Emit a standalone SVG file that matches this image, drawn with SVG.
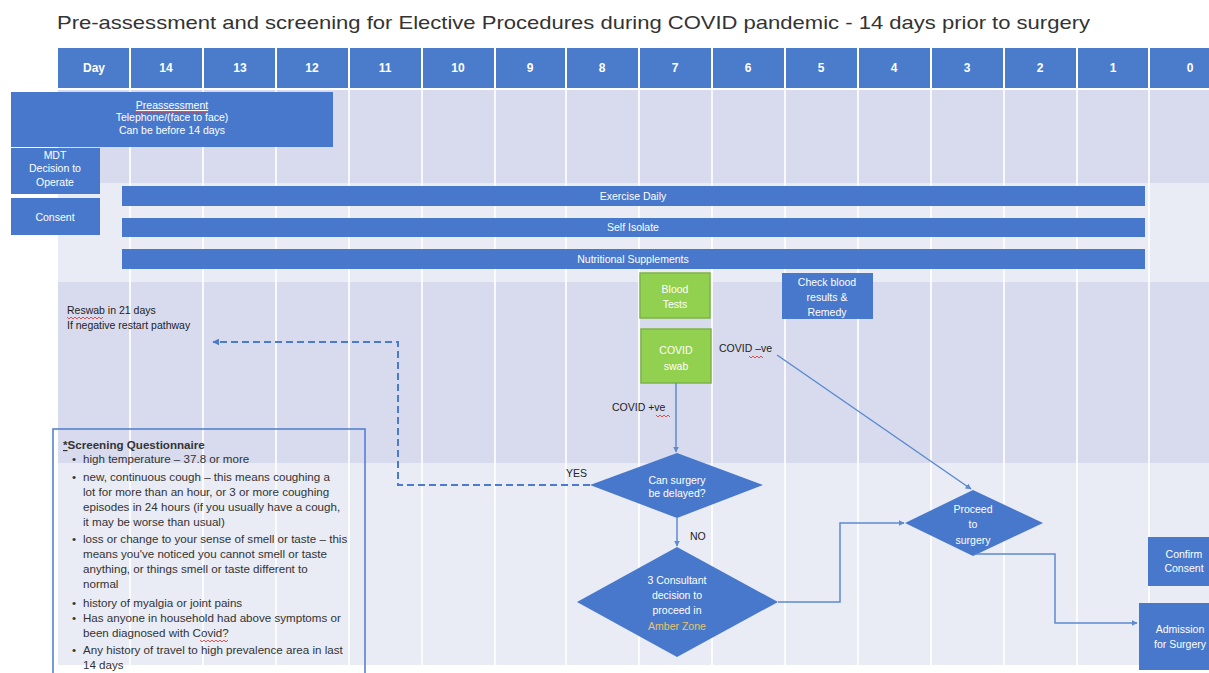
<svg xmlns="http://www.w3.org/2000/svg" width="1209" height="673" viewBox="0 0 1209 673">
<style>
.t{font-family:"Liberation Sans",Arial,sans-serif}
.hd{font-family:"Liberation Sans",Arial,sans-serif;font-size:12px;font-weight:bold;fill:#fff;text-anchor:middle}
.bx{fill:#4878CC}
.gr{fill:#92D050;stroke:#7DB446;stroke-width:1.5}
.wt{font-family:"Liberation Sans",Arial,sans-serif;font-size:10.5px;fill:#fff;text-anchor:middle}
.dk{font-family:"Liberation Sans",Arial,sans-serif;font-size:10.5px;fill:#222}
.q{font-family:"Liberation Sans",Arial,sans-serif;font-size:11.6px;fill:#333}
.gl{stroke:#fff;stroke-width:2;opacity:0.85}
.cn{fill:none;stroke:#5B8BD0;stroke-width:1.5}
.sq{fill:none;stroke:#e0403a;stroke-width:0.9}
</style>
<defs>
<marker id="ah" viewBox="0 0 10 10" refX="9" refY="5" markerWidth="6" markerHeight="6" orient="auto" markerUnits="userSpaceOnUse">
<path d="M0,0 L10,5 L0,10 z" fill="#5B8BD0"/>
</marker>
<marker id="ahd" viewBox="0 0 10 10" refX="9" refY="5" markerWidth="7" markerHeight="7" orient="auto" markerUnits="userSpaceOnUse">
<path d="M0,0 L10,5 L0,10 z" fill="#4A7CCB"/>
</marker>
</defs>
<rect x="0" y="0" width="1209" height="673" fill="#fff"/>
<text class="t" x="57" y="29" font-size="18.5" fill="#333" textLength="1033" lengthAdjust="spacingAndGlyphs">Pre-assessment and screening for Elective Procedures during COVID pandemic  - 14 days prior to surgery</text>

<g id="background">
<rect x="58" y="90" width="1151" height="93" fill="#D8DBEE"/>
<rect x="58" y="183" width="1151" height="99" fill="#E9EBF5"/>
<rect x="58" y="282" width="1151" height="181" fill="#D8DBEE"/>
<rect x="58" y="463" width="1151" height="202" fill="#E9EBF5"/>
<g class="gl">
<line x1="130" y1="90" x2="130" y2="665"/><line x1="203" y1="90" x2="203" y2="665"/><line x1="276" y1="90" x2="276" y2="665"/><line x1="349" y1="90" x2="349" y2="665"/><line x1="422" y1="90" x2="422" y2="665"/><line x1="495" y1="90" x2="495" y2="665"/><line x1="566" y1="90" x2="566" y2="665"/><line x1="639" y1="90" x2="639" y2="665"/><line x1="712" y1="90" x2="712" y2="665"/><line x1="785" y1="90" x2="785" y2="665"/><line x1="858" y1="90" x2="858" y2="665"/><line x1="931" y1="90" x2="931" y2="665"/><line x1="1004" y1="90" x2="1004" y2="665"/><line x1="1077" y1="90" x2="1077" y2="665"/><line x1="1149" y1="90" x2="1149" y2="665"/>
</g>
</g>

<g id="header">
<rect x="58" y="48" width="1151" height="40" fill="#4A7CCB"/>
<g stroke="#fff" stroke-width="2">
<line x1="130" y1="48" x2="130" y2="88"/><line x1="203" y1="48" x2="203" y2="88"/><line x1="276" y1="48" x2="276" y2="88"/><line x1="349" y1="48" x2="349" y2="88"/><line x1="422" y1="48" x2="422" y2="88"/><line x1="495" y1="48" x2="495" y2="88"/><line x1="566" y1="48" x2="566" y2="88"/><line x1="639" y1="48" x2="639" y2="88"/><line x1="712" y1="48" x2="712" y2="88"/><line x1="785" y1="48" x2="785" y2="88"/><line x1="858" y1="48" x2="858" y2="88"/><line x1="931" y1="48" x2="931" y2="88"/><line x1="1004" y1="48" x2="1004" y2="88"/><line x1="1077" y1="48" x2="1077" y2="88"/><line x1="1149" y1="48" x2="1149" y2="88"/>
</g>
<text class="hd" x="94" y="72">Day</text><text class="hd" x="166" y="72">14</text><text class="hd" x="240" y="72">13</text><text class="hd" x="312" y="72">12</text><text class="hd" x="385" y="72">11</text><text class="hd" x="458" y="72">10</text><text class="hd" x="530" y="72">9</text><text class="hd" x="602" y="72">8</text><text class="hd" x="675" y="72">7</text><text class="hd" x="748" y="72">6</text><text class="hd" x="821" y="72">5</text><text class="hd" x="894" y="72">4</text><text class="hd" x="967" y="72">3</text><text class="hd" x="1040" y="72">2</text><text class="hd" x="1113" y="72">1</text><text class="hd" x="1190" y="72">0</text>
</g>

<g id="preassessment">
<rect class="bx" x="11" y="92" width="322" height="55"/>
<text class="wt" x="172" y="109" text-decoration="underline">Preassessment</text>
<text class="wt" x="172" y="121">Telephone/(face to face)</text>
<text class="wt" x="172" y="134">Can be before 14 days</text>
<path class="sq" d="M133,112 l2,2 l2,-2 l2,2 l2,-2 l2,2 l2,-2 l2,2 l2,-2 l2,2 l2,-2 l2,2 l2,-2 l2,2 l2,-2 l2,2 l2,-2 l2,2 l2,-2 l2,2 l2,-2 l2,2 l2,-2 l2,2 l2,-2 l2,2 l2,-2 l2,2 l2,-2 l2,2 l2,-2 l2,2 l2,-2 l2,2 l2,-2 l2,2 l2,-2"/>
</g>
<g id="mdt">
<rect class="bx" x="11" y="148" width="89" height="46"/>
<text class="wt" x="55" y="159">MDT</text>
<text class="wt" x="55" y="172">Decision to</text>
<text class="wt" x="55" y="186">Operate</text>
</g>
<g id="consent">
<rect class="bx" x="11" y="198" width="89" height="37"/>
<text class="wt" x="55" y="221">Consent</text>
</g>
<g id="exercise">
<rect class="bx" x="122" y="186" width="1023" height="20"/>
<text class="wt" x="633" y="200">Exercise Daily</text>
</g>
<g id="isolate">
<rect class="bx" x="122" y="218" width="1023" height="19"/>
<text class="wt" x="633" y="231">Self Isolate</text>
</g>
<g id="nutrition">
<rect class="bx" x="122" y="249" width="1023" height="20"/>
<text class="wt" x="633" y="263">Nutritional Supplements</text>
</g>
<g id="blood-tests">
<rect class="gr" x="640" y="273" width="70" height="45"/>
<text class="wt" x="675" y="293">Blood</text>
<text class="wt" x="675" y="308">Tests</text>
</g>
<g id="check-blood">
<rect class="bx" x="782" y="273" width="91" height="46"/>
<text class="wt" x="827" y="286">Check blood</text>
<text class="wt" x="827" y="301">results &amp;</text>
<text class="wt" x="827" y="316">Remedy</text>
</g>
<g id="covid-swab">
<rect class="gr" x="641" y="329" width="70" height="54"/>
<text class="wt" x="676" y="354">COVID</text>
<text class="wt" x="676" y="370">swab</text>
</g>
<g id="reswab">
<text class="dk" x="67" y="314">Reswab in 21 days</text>
<text class="dk" x="67" y="329">If negative restart pathway</text>
<path class="sq" d="M67,317 l2,2 l2,-2 l2,2 l2,-2 l2,2 l2,-2 l2,2 l2,-2 l2,2 l2,-2 l2,2 l2,-2 l2,2 l2,-2 l2,2 l2,-2 l2,2 l2,-2"/>
</g>
<g id="delay-decision">
<polygon class="bx" points="677,453 763,485 677,518 590,485"/>
<text class="wt" x="677" y="484">Can surgery</text>
<text class="wt" x="677" y="497">be delayed?</text>
</g>
<g id="consultant-decision">
<polygon class="bx" points="677,547 778,602 677,657 577,602"/>
<text class="wt" x="677" y="584">3 Consultant</text>
<text class="wt" x="677" y="599">decision to</text>
<text class="wt" x="677" y="614">proceed in</text>
<text class="wt" x="677" y="630" style="fill:#E9C46A">Amber Zone</text>
</g>
<g id="proceed">
<polygon class="bx" points="973,490 1043,523 973,556 905,523"/>
<text class="wt" x="973" y="513">Proceed</text>
<text class="wt" x="973" y="528">to</text>
<text class="wt" x="973" y="544">surgery</text>
</g>
<g id="confirm-consent">
<rect class="bx" x="1148" y="537" width="70" height="49"/>
<text class="wt" x="1184" y="558">Confirm</text>
<text class="wt" x="1184" y="572">Consent</text>
</g>
<g id="admission">
<rect class="bx" x="1139" y="603" width="80" height="67"/>
<text class="wt" x="1180" y="633">Admission</text>
<text class="wt" x="1180" y="648">for Surgery</text>
</g>
<g id="questionnaire">
<rect x="53" y="429" width="312" height="260" fill="none" stroke="#4A7CCB" stroke-width="1.5"/>
<text class="q" x="63" y="449" font-weight="bold"><tspan text-decoration="underline">*</tspan>Screening Questionnaire</text>
<g class="q">
<text x="72" y="463">•</text><text x="83" y="463">high temperature – 37.8 or more</text>
<text x="72" y="481">•</text><text x="83" y="481">new, continuous cough – this means coughing a</text>
<text x="83" y="496">lot for more than an hour, or 3 or more coughing</text>
<text x="83" y="511">episodes in 24 hours (if you usually have a cough,</text>
<text x="83" y="526">it may be worse than usual)</text>
<text x="72" y="543">•</text><text x="83" y="543">loss or change to your sense of smell or taste – this</text>
<text x="83" y="558">means you've noticed you cannot smell or taste</text>
<text x="83" y="573">anything, or things smell or taste different to</text>
<text x="83" y="588">normal</text>
<text x="72" y="607">•</text><text x="83" y="607">history of myalgia or joint pains</text>
<text x="72" y="622">•</text><text x="83" y="622">Has anyone in household had above symptoms or</text>
<text x="83" y="637">been diagnosed with Covid?</text>
<text x="72" y="654">•</text><text x="83" y="654">Any history of travel to high prevalence area in last</text>
<text x="83" y="669">14 days</text>
</g>
<path class="sq" d="M200,640 l2,2 l2,-2 l2,2 l2,-2 l2,2 l2,-2 l2,2 l2,-2 l2,2 l2,-2 l2,2 l2,-2 l2,2 l2,-2"/>
</g>

<g id="connectors">
<path class="cn" d="M676,383 V452" marker-end="url(#ah)"/>
<path d="M590,485 H398 V342 H213" fill="none" stroke="#4A7CCB" stroke-width="2" stroke-dasharray="7,4" marker-end="url(#ahd)"/>
<path class="cn" d="M677,518 V546" marker-end="url(#ah)"/>
<path class="cn" d="M778,602 H840 V523 H904" marker-end="url(#ah)"/>
<path class="cn" d="M777,355 L971,489" marker-end="url(#ah)"/>
<path class="cn" d="M976,554 H1055 V623 H1137" marker-end="url(#ah)"/>
<text class="dk" x="566" y="477">YES</text>
<text class="dk" x="690" y="540">NO</text>
<text class="dk" x="719" y="352">COVID –ve</text>
<text class="dk" x="612" y="411">COVID +ve</text>
<path class="sq" d="M749,356 l2,2 l2,-2 l2,2 l2,-2 l2,2 l2,-2 l2,2"/>
<path class="sq" d="M656,415 l2,2 l2,-2 l2,2 l2,-2 l2,2 l2,-2 l2,2"/>
</g>
</svg>
